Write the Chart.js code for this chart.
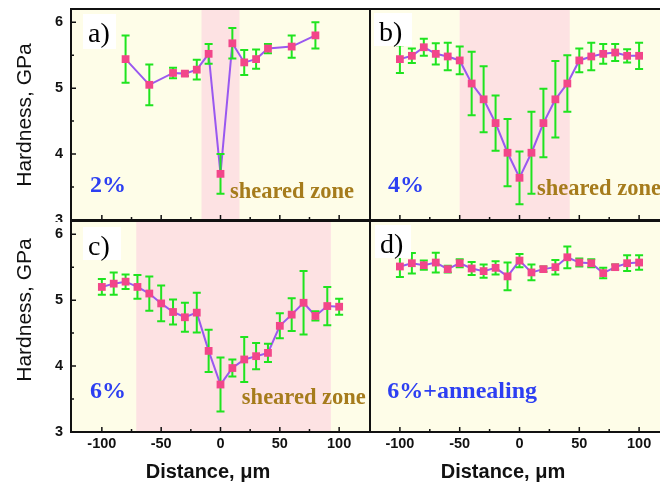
<!DOCTYPE html>
<html>
<head>
<meta charset="utf-8">
<script src="https://cdn.jsdelivr.net/npm/chart.js@4/dist/chart.umd.min.js"></script>
<style>
  html, body { margin: 0; padding: 0; background: #fff; overflow: hidden; }
  #wrap { position: relative; width: 660px; height: 483px; overflow: hidden; background: #fff; }
  #wrap canvas { position: absolute; }
</style>
</head>
<body>
<div id="wrap">
  <canvas id="pa" width="372" height="222" style="left:0px;top:0px"></canvas>
  <canvas id="pb" width="302" height="222" style="left:368px;top:0px"></canvas>
  <canvas id="pc" width="372" height="264" style="left:0px;top:219px"></canvas>
  <canvas id="pd" width="302" height="264" style="left:368px;top:219px"></canvas>
</div>
<script>
// Indentation positions across the shear band (µm)
const POS_A = [-80, -60, -40, -30, -20, -10, 0, 10, 20, 30, 40, 60, 80];
const POS_BCD = [-100, -90, -80, -70, -60, -50, -40, -30, -20, -10, 0, 10, 20, 30, 40, 50, 60, 70, 80, 90, 100];

// 2% strain
const HARD_A = [5.44, 5.05, 5.23, 5.22, 5.28, 5.52, 3.70, 5.68, 5.39, 5.44, 5.60, 5.63, 5.80];
const ERR_A  = [0.36, 0.31, 0.08, 0.035, 0.15, 0.15, 0.30, 0.23, 0.19, 0.145, 0.07, 0.17, 0.20];

// 4% strain
const HARD_B = [5.44, 5.49, 5.62, 5.52, 5.48, 5.42, 5.07, 4.83, 4.47, 4.02, 3.64, 4.02, 4.47, 4.83, 5.07, 5.42, 5.48, 5.52, 5.54, 5.49, 5.49];
const ERR_B  = [0.21, 0.11, 0.13, 0.16, 0.21, 0.21, 0.48, 0.50, 0.42, 0.51, 0.40, 0.62, 0.52, 0.58, 0.43, 0.18, 0.21, 0.15, 0.13, 0.10, 0.20];

// 6% strain
const HARD_C = [5.20, 5.25, 5.28, 5.20, 5.10, 4.95, 4.82, 4.74, 4.81, 4.23, 3.72, 3.97, 4.10, 4.15, 4.20, 4.61, 4.78, 4.96, 4.76, 4.91, 4.90];
const ERR_C  = [0.12, 0.17, 0.11, 0.18, 0.26, 0.27, 0.19, 0.22, 0.30, 0.32, 0.41, 0.13, 0.34, 0.20, 0.14, 0.19, 0.25, 0.48, 0.07, 0.29, 0.12];

// 6% strain + annealing
const HARD_D = [5.51, 5.56, 5.53, 5.57, 5.47, 5.56, 5.48, 5.44, 5.49, 5.36, 5.60, 5.42, 5.47, 5.50, 5.65, 5.57, 5.56, 5.41, 5.50, 5.56, 5.57];
const ERR_D  = [0.16, 0.155, 0.07, 0.15, 0.05, 0.06, 0.10, 0.10, 0.10, 0.21, 0.10, 0.12, 0.04, 0.11, 0.165, 0.06, 0.06, 0.08, 0.04, 0.12, 0.11];

// Sheared-zone extents (µm)
const BAND_A = [-16, 16];
const BAND_B = [-50, 42];
const BAND_C = [-71, 93];

// Axis ticks
const X_TICKS = [-100, -50, 0, 50, 100];
const X_MINOR = [-75, -25, 25, 75];
const Y_TICKS = [3, 4, 5, 6];
const Y_MINOR = [3.5, 4.5, 5.5];

const SANS = "'Liberation Sans', Arial, sans-serif";
const SERIF = "'Liberation Serif', 'Times New Roman', serif";
const C = {
  paper: '#fefde8',
  band: '#fde2e3',
  frame: '#111111',
  line: '#9a58f0',
  marker: '#f2468a',
  err: '#1fe41f',
  blue: '#2d3ff2',
  zone: '#a67c1c',
  text: '#111111'
};

const panelPlugin = {
  id: 'panel',
  beforeDatasetsDraw(chart, args, o) {
    const { ctx, chartArea: a, scales: { x } } = chart;
    ctx.save();
    ctx.fillStyle = C.paper;
    ctx.fillRect(a.left, a.top, a.right - a.left, a.bottom - a.top);
    if (o.band) {
      const x0 = Math.max(a.left, x.getPixelForValue(o.band[0]));
      const x1 = Math.min(a.right, x.getPixelForValue(o.band[1]));
      ctx.fillStyle = C.band;
      ctx.fillRect(x0, a.top, x1 - x0, a.bottom - a.top);
    }
    ctx.restore();
  },
  afterDatasetDraw(chart, args) {
    const ds = chart.data.datasets[args.index];
    if (!ds.errors) return;
    const { ctx, chartArea: a, scales: { x, y } } = chart;
    ctx.save();
    ctx.beginPath();
    ctx.rect(a.left, a.top, a.right - a.left, a.bottom - a.top);
    ctx.clip();
    ctx.strokeStyle = C.err;
    ctx.lineWidth = 2;
    ds.data.forEach((p, i) => {
      const e = ds.errors[i];
      const px = x.getPixelForValue(p.x);
      const t = y.getPixelForValue(p.y + e);
      const b = y.getPixelForValue(p.y - e);
      ctx.beginPath();
      ctx.moveTo(px, t); ctx.lineTo(px, b);
      ctx.moveTo(px - 4, t); ctx.lineTo(px + 4, t);
      ctx.moveTo(px - 4, b); ctx.lineTo(px + 4, b);
      ctx.stroke();
    });
    ctx.restore();
  },
  afterDatasetsDraw(chart, args, o) {
    const { ctx, chartArea: a, scales: { x, y } } = chart;
    ctx.save();
    ctx.beginPath();
    ctx.rect(a.left, a.top, a.right - a.left, a.bottom - a.top);
    ctx.clip();
    ctx.textBaseline = 'alphabetic';
    ctx.textAlign = 'left';
    (o.notes || []).forEach(n => {
      ctx.font = `bold ${n.size}px ${SERIF}`;
      ctx.fillStyle = n.color;
      ctx.fillText(n.text, x.getPixelForValue(n.x), y.getPixelForValue(n.y));
    });
    if (o.tag) {
      const t = o.tag;
      const bx = a.left + t.dx, by = a.top + t.dy;
      ctx.fillStyle = '#ffffff';
      ctx.fillRect(bx, by, t.w, t.h);
      ctx.font = `28px ${SERIF}`;
      ctx.fillStyle = '#000000';
      ctx.fillText(t.text, bx + 5, by + 28);
    }
    ctx.restore();
  },
  afterDraw(chart, args, o) {
    const { ctx, chartArea: a, scales: { x, y } } = chart;
    ctx.save();
    ctx.strokeStyle = C.frame;
    ctx.lineWidth = 1.5;
    ctx.beginPath();
    X_TICKS.forEach(v => { const p = x.getPixelForValue(v); ctx.moveTo(p, a.bottom); ctx.lineTo(p, a.bottom - 5); });
    X_MINOR.forEach(v => { const p = x.getPixelForValue(v); ctx.moveTo(p, a.bottom); ctx.lineTo(p, a.bottom - 3); });
    if (o.yTicks) {
      Y_TICKS.forEach(v => { const p = y.getPixelForValue(v); ctx.moveTo(a.left, p); ctx.lineTo(a.left + 5, p); });
      Y_MINOR.forEach(v => { const p = y.getPixelForValue(v); ctx.moveTo(a.left, p); ctx.lineTo(a.left + 3, p); });
    }
    ctx.stroke();
    ctx.lineWidth = 2;
    ctx.strokeRect(a.left, a.top, a.right - a.left, a.bottom - a.top);
    ctx.fillStyle = C.text;
    ctx.textAlign = 'center';
    ctx.textBaseline = 'middle';
    if (o.yTitle) {
      ctx.save();
      ctx.translate(o.yTitle.cx, o.yTitle.cy);
      ctx.rotate(-Math.PI / 2);
      ctx.font = `21px ${SANS}`;
      ctx.fillText('Hardness, GPa', 0, 0);
      ctx.restore();
    }
    if (o.xTitle) {
      ctx.font = `bold 20px ${SANS}`;
      ctx.fillText('Distance, \u03bcm', o.xTitle.cx, o.xTitle.cy);
    }
    ctx.restore();
  }
};

// Scales get fixed box sizes so the four plot frames line up edge to edge
function fixBox(s, w, h) {
  if (w !== null) s.width = w;
  if (h !== null) s.height = h;
  s.paddingLeft = 0; s.paddingRight = 0; s.paddingTop = 0; s.paddingBottom = 0;
}

function makePanel(id, cfg) {
  const pts = cfg.pos.map((v, i) => ({ x: v, y: cfg.hard[i] }));
  const tickFont = { family: SANS, size: 14.5, weight: 'bold' };
  new Chart(document.getElementById(id), {
    type: 'scatter',
    data: {
      datasets: [
        {
          data: pts,
          showLine: false,
          pointStyle: 'rect',
          pointRadius: 5.5,
          pointBorderWidth: 0,
          pointBackgroundColor: C.marker,
          pointBorderColor: C.marker,
          order: 0
        },
        {
          data: pts,
          errors: cfg.err,
          showLine: true,
          borderColor: C.line,
          borderWidth: 2,
          pointRadius: 0,
          order: 1
        }
      ]
    },
    options: {
      responsive: false,
      animation: false,
      devicePixelRatio: 1,
      events: [],
      layout: { autoPadding: false, padding: { left: 0, top: cfg.padTop, right: cfg.padRight, bottom: cfg.padBottom } },
      plugins: {
        legend: { display: false },
        tooltip: { enabled: false },
        panel: {
          band: cfg.band,
          notes: cfg.notes,
          tag: cfg.tag,
          yTicks: cfg.yLabels,
          yTitle: cfg.yTitle,
          xTitle: cfg.xTitle
        }
      },
      scales: {
        x: {
          type: 'linear',
          min: -cfg.xRange,
          max: cfg.xRange,
          grid: { display: false, drawTicks: false },
          border: { display: false },
          ticks: { display: cfg.xLabels, padding: 3, color: C.text, font: tickFont },
          afterBuildTicks: s => { s.ticks = X_TICKS.map(v => ({ value: v })); },
          afterFit: s => fixBox(s, null, cfg.xLabels ? 51 : 0)
        },
        y: {
          type: 'linear',
          min: 3,
          max: 6.2,
          grid: { display: false, drawTicks: false },
          border: { display: false },
          ticks: { display: cfg.yLabels, padding: 8, color: C.text, font: tickFont },
          afterBuildTicks: s => { s.ticks = Y_TICKS.map(v => ({ value: v })); },
          afterFit: s => fixBox(s, cfg.yLabels ? 71 : 2, null)
        }
      }
    },
    plugins: [panelPlugin]
  });
}

const zoneNote = (x, y) => ({ text: 'sheared zone', x, y, size: 22.5, color: C.zone });
const pctNote = (text, x, y) => ({ text, x, y, size: 24, color: C.blue });

makePanel('pa', {
  pos: POS_A, hard: HARD_A, err: ERR_A, band: BAND_A,
  xRange: 126, padTop: 9, padRight: 2, padBottom: 2,
  xLabels: false, yLabels: true,
  notes: [pctNote('2%', -110, 3.43), zoneNote(8, 3.33)],
  tag: { text: 'a)', dx: 12, dy: 5, w: 33, h: 35 },
  yTitle: { cx: 25, cy: 115 }
});

makePanel('pb', {
  pos: POS_BCD, hard: HARD_B, err: ERR_B, band: BAND_B,
  xRange: 125, padTop: 9, padRight: 1, padBottom: 2,
  xLabels: false, yLabels: false,
  notes: [pctNote('4%', -110, 3.43), zoneNote(14.6, 3.38)],
  tag: { text: 'b)', dx: 4, dy: 4, w: 38, h: 33 }
});

makePanel('pc', {
  pos: POS_BCD, hard: HARD_C, err: ERR_C, band: BAND_C,
  xRange: 126, padTop: 2, padRight: 2, padBottom: 0,
  xLabels: true, yLabels: true,
  notes: [pctNote('6%', -110, 3.52), zoneNote(18, 3.42)],
  tag: { text: 'c)', dx: 12, dy: 6, w: 38, h: 33 },
  yTitle: { cx: 25, cy: 91 },
  xTitle: { cx: 208, cy: 253 }
});

makePanel('pd', {
  pos: POS_BCD, hard: HARD_D, err: ERR_D, band: null,
  xRange: 125, padTop: 2, padRight: 1, padBottom: 0,
  xLabels: true, yLabels: false,
  notes: [pctNote('6%+annealing', -110.5, 3.52)],
  tag: { text: 'd)', dx: 5, dy: 4, w: 36, h: 33 },
  xTitle: { cx: 135, cy: 253 }
});
</script>
</body>
</html>
